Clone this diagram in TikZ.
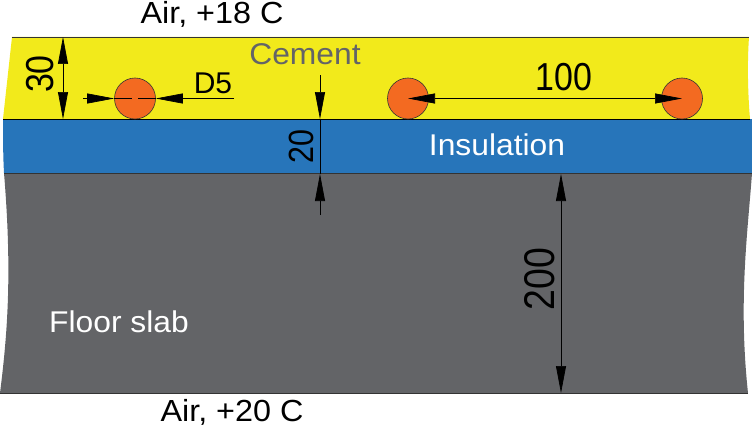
\documentclass[tikz,border=0pt]{standalone}
\usepackage{fontspec}
\setmainfont{Liberation Sans}
\newfontfamily\dimfont[FakeStretch=0.87]{Liberation Sans}
\newfontfamily\layerfont[FakeStretch=1.06]{Liberation Sans}
\usetikzlibrary{arrows.meta}
\definecolor{cementcol}{HTML}{F2EA1B}
\definecolor{insulcol}{HTML}{2775BA}
\definecolor{slabcol}{HTML}{636467}
\definecolor{pipecol}{HTML}{F36A21}
\tikzset{
  pipe/.style={circle,draw=black!80,line width=0.6pt,fill=pipecol,minimum size=41pt,inner sep=0pt},
  layertext/.style={font=\layerfont\fontsize{30}{30}\selectfont,inner sep=0pt,anchor=base},
  airtext/.style={font=\layerfont\fontsize{30.5}{30}\selectfont,inner sep=0pt,anchor=base},
  dimtext/.style={font=\dimfont\fontsize{#1}{#1}\selectfont,inner sep=0pt,anchor=base},
  dimline/.style={line width=0.7pt,black},
  dimtip/.tip={Triangle[length=27pt,width=10pt]},
}

\begin{document}
\begin{tikzpicture}[x=1pt,y=-1pt]
\useasboundingbox (0,0) rectangle (752,428);

% layers
\fill [cementcol] (12,37) -- (749,37) .. controls (747,65) and (748,95) .. (750,119) -- (3,119) -- cycle;
\fill [insulcol] (3,119) -- (752,119) -- (752,173) -- (4,173) .. controls (3,155) and (3,135) .. (3,119);
\fill [slabcol] (4,173) -- (752,173) .. controls (748,230) and (738,300) .. (748,393) -- (0,393) .. controls (8,330) and (12,270) .. (4,173);
\draw [line width=0.7pt,black!80] (12,37) -- (749,37);
\draw [line width=0.7pt,black] (3,119) -- (750,119);
\draw [line width=0.7pt,black!80] (4,173) -- (752,173);
\draw [line width=0.7pt,black!80] (0,393) -- (748,393);

% pipes
\node [pipe] (pipeA) at (135,98.5) {};
\node [pipe] (pipeB) at (408,98.5) {};
\node [pipe] (pipeC) at (682,98.5) {};

% points for the dimensions
\coordinate (topA) at (63,37);
\coordinate (botA) at (63,119);
\coordinate (dfree) at (83,98.5);
\coordinate (dend) at (234,98.5);
\coordinate (insT) at (320,75);
\coordinate (insA) at (320,119);
\coordinate (insB) at (320,174);
\coordinate (insE) at (320,215);
\coordinate (slabT) at (561,174);
\coordinate (slabB) at (561,393);

% dimensions
\draw [dimline,{dimtip}-{dimtip}] (topA) -- (botA);
\draw [dimline,-{dimtip}] (dfree) -- (pipeA.west);
\draw [dimline,-{dimtip}] (dend) -- (pipeA.east);
\draw [dimline,shorten >=3pt] (pipeA.west) -- (pipeA.center);
\draw [dimline,shorten >=3pt] (pipeA.east) -- (pipeA.center);
\draw [dimline,-{dimtip}] (insT) -- (insA);
\draw [dimline] (insA) -- (insB);
\draw [dimline,-{dimtip}] (insE) -- (insB);
\draw [dimline,{dimtip}-{dimtip}] (pipeB.center) -- (pipeC.center);
\draw [dimline,{dimtip}-{dimtip}] (slabT) -- (slabB);

% texts
\node [airtext] (airtop) at (212,23.5) {Air, +18 C};
\node [layertext,text=slabcol] (cement) at (305,65) {Cement};
\node [layertext,text=white] (insul) at (497,155) {Insulation};
\node [layertext,text=white] (slab) at (119,332) {Floor slab};
\node [airtext] (airbot) at (232,421) {Air, +20 C};
\node [font=\fontsize{30}{30}\selectfont,inner sep=0pt,anchor=base] (dfive) at (213,93) {D5};
\node [dimtext=39] (hundred) at (564,90) {100};
\node [dimtext=39,rotate=90] (thirty) at (53,74) {30};
\node [dimtext=35,rotate=90] (twenty) at (313,146.5) {20};
\node [dimtext=43,rotate=90] (twohundred) at (554,279) {200};
\end{tikzpicture}
\end{document}
